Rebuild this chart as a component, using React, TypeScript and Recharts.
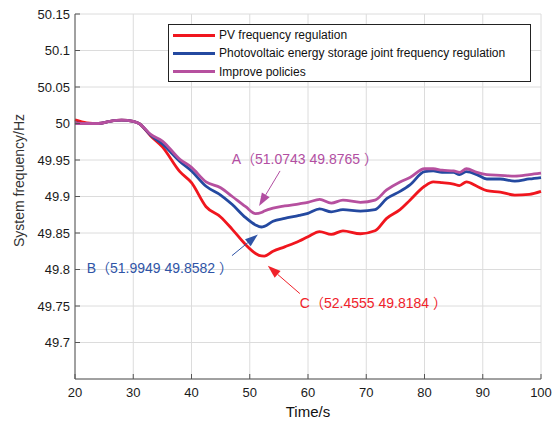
import React from 'react';
import {
  LineChart,
  Line,
  XAxis,
  YAxis,
  CartesianGrid,
  ReferenceLine,
  ReferenceDot,
  Label,
} from 'recharts';

const FONT = 'Arial, "Liberation Sans", sans-serif';
const NOTE_FONT = 'Arial, "Liberation Sans", "Noto Sans CJK SC", sans-serif';

// time samples (s)
const time = [
  20, 22, 24, 26, 28, 30, 31, 33, 35, 38, 40, 42.5, 45, 47, 49.3, 51, 52, 52.5, 54, 56,
  58.5, 60, 62, 64, 66, 69, 71.5, 73.5, 75.8, 77.5, 80, 81.5, 83, 85, 86, 87.2, 89, 90.7,
  93, 95.5, 98, 100,
];

// system frequency (Hz) for each strategy
const pvOnly = [
  50.005, 50.001, 50.0, 50.003, 50.0045, 50.003, 50.0, 49.983, 49.968, 49.934, 49.919,
  49.886, 49.872, 49.855, 49.834, 49.822, 49.8186, 49.8184, 49.825, 49.831, 49.839,
  49.845, 49.852, 49.848, 49.853, 49.849, 49.853, 49.87, 49.882, 49.895, 49.914, 49.92,
  49.919, 49.917, 49.915, 49.92, 49.914, 49.908, 49.906, 49.902, 49.903, 49.907,
];
const pvStorage = [
  50.001, 50.0, 50.0, 50.003, 50.0045, 50.003, 50.0, 49.984, 49.972, 49.948, 49.935,
  49.914, 49.902, 49.889, 49.871, 49.861, 49.8582, 49.859, 49.866, 49.87, 49.874,
  49.877, 49.883, 49.879, 49.882, 49.88, 49.882, 49.897, 49.907, 49.916, 49.934, 49.935,
  49.933, 49.933, 49.93, 49.934, 49.93, 49.924, 49.924, 49.921, 49.924, 49.926,
];
const improved = [
  50.0, 50.0, 50.0, 50.003, 50.0045, 50.003, 50.0, 49.985, 49.976, 49.951, 49.94, 49.92,
  49.912, 49.9, 49.886, 49.8765, 49.878, 49.88, 49.884, 49.887, 49.89, 49.892, 49.896,
  49.891, 49.895, 49.892, 49.895, 49.909, 49.92, 49.926, 49.938, 49.938, 49.936, 49.935,
  49.933, 49.938, 49.933, 49.93, 49.929, 49.928, 49.93, 49.932,
];

const xTicks = [20, 30, 40, 50, 60, 70, 80, 90, 100];
const yTicks = [49.7, 49.75, 49.8, 49.85, 49.9, 49.95, 50, 50.05, 50.1, 50.15];

const series = [
  { key: 'pv', name: 'PV frequency regulation', color: '#f0161e', values: pvOnly },
  {
    key: 'storage',
    name: 'Photovoltaic energy storage joint frequency regulation',
    color: '#2449a0',
    values: pvStorage,
  },
  { key: 'improved', name: 'Improve policies', color: '#b6509f', values: improved },
];

// callouts: label anchor, arrow tail -> arrow head
const callouts = [
  {
    text: 'A（51.0743 49.8765 ）',
    color: '#b24ea2',
    at: { x: 46.9, y: 49.951 },
    from: { x: 55.2, y: 49.935 },
    to: { x: 51.6, y: 49.887 },
  },
  {
    text: 'B（51.9949 49.8582 ）',
    color: '#2f54a6',
    at: { x: 22.0, y: 49.8026 },
    from: { x: 46.95, y: 49.819 },
    to: { x: 51.4, y: 49.848 },
  },
  {
    text: 'C（52.4555 49.8184 ）',
    color: '#f0222a',
    at: { x: 58.6, y: 49.7535 },
    from: { x: 58.6, y: 49.767 },
    to: { x: 53.1, y: 49.805 },
  },
];

const data = time.map((t, i) => {
  const row: Record<string, number> = { t };
  series.forEach((s) => {
    row[s.key] = s.values[i];
  });
  return row;
});

const arrowShape = (color: string) => (props: any) => {
  const { x1, y1, x2, y2 } = props;
  const ang = Math.atan2(y2 - y1, x2 - x1);
  const len = 13;
  const half = 4.5;
  const bx = x2 - len * Math.cos(ang);
  const by = y2 - len * Math.sin(ang);
  const px = -Math.sin(ang) * half;
  const py = Math.cos(ang) * half;
  return (
    <g>
      <line x1={x1} y1={y1} x2={bx} y2={by} stroke={color} strokeWidth={1} />
      <polygon
        points={`${x2},${y2} ${bx + px},${by + py} ${bx - px},${by - py}`}
        fill={color}
      />
    </g>
  );
};

const textShape = (text: string, color: string) => (props: any) => (
  <text
    x={props.cx}
    y={props.cy}
    dominantBaseline="central"
    fill={color}
    fontSize={14}
    fontFamily={NOTE_FONT}
  >
    {text}
  </text>
);

const tickStyle = { fill: '#1a1a1a', fontSize: 13, fontFamily: FONT };
const axisColor = '#555';

export default function App() {
  return (
    <div style={{ position: 'absolute', left: 0, top: 0, width: 553, height: 428 }}>
      <LineChart
        width={553}
        height={428}
        data={data}
        margin={{ top: 14, right: 12, left: 0, bottom: 0 }}
      >
        <CartesianGrid stroke="#dcdcdc" strokeWidth={1} />
        <XAxis
          dataKey="t"
          type="number"
          domain={[20, 100]}
          ticks={xTicks}
          height={49}
          tick={tickStyle}
          tickSize={-5}
          tickMargin={14}
          stroke={axisColor}
        >
          <Label
            content={(p: any) => (
              <text
                x={p.viewBox.x + p.viewBox.width / 2}
                y={p.viewBox.y + 32}
                textAnchor="middle"
                dominantBaseline="central"
                fontSize={15}
                fontFamily={FONT}
                fill="#111"
              >
                Time/s
              </text>
            )}
          />
        </XAxis>
        <XAxis
          xAxisId="top"
          orientation="top"
          type="number"
          dataKey="t"
          domain={[20, 100]}
          ticks={xTicks}
          height={0}
          tickFormatter={() => ''}
          tickSize={-5}
          stroke={axisColor}
        />
        <YAxis
          type="number"
          domain={[49.65, 50.15]}
          ticks={yTicks}
          width={75}
          tick={tickStyle}
          tickSize={-5}
          tickMargin={10}
          stroke={axisColor}
        >
          <Label
            content={(p: any) => {
              const cx = 19;
              const cy = p.viewBox.y + p.viewBox.height / 2 - 16;
              return (
                <text
                  x={cx}
                  y={cy}
                  transform={`rotate(-90 ${cx} ${cy})`}
                  textAnchor="middle"
                  dominantBaseline="central"
                  fontSize={14}
                  fontFamily={FONT}
                  fill="#333"
                >
                  System frequency/Hz
                </text>
              );
            }}
          />
        </YAxis>
        <YAxis
          yAxisId="right"
          orientation="right"
          type="number"
          domain={[49.65, 50.15]}
          ticks={yTicks}
          width={0}
          tickFormatter={() => ''}
          tickSize={-5}
          stroke={axisColor}
        />
        {series.map((s) => (
          <Line
            key={s.key}
            type="monotone"
            dataKey={s.key}
            name={s.name}
            stroke={s.color}
            strokeWidth={2.8}
            dot={false}
            isAnimationActive={false}
          />
        ))}
        {callouts.map((c) => (
          <ReferenceLine
            key={c.text + '-arrow'}
            segment={[c.from, c.to]}
            stroke={c.color}
            ifOverflow="visible"
            shape={arrowShape(c.color)}
          />
        ))}
        {callouts.map((c) => (
          <ReferenceDot
            key={c.text}
            x={c.at.x}
            y={c.at.y}
            r={0}
            ifOverflow="visible"
            shape={textShape(c.text, c.color)}
          />
        ))}
      </LineChart>
      {/* boxed legend in the upper part of the plot */}
      <div
        style={{
          position: 'absolute',
          left: 168,
          top: 24,
          width: 361,
          height: 55,
          border: '1px solid #222',
          background: '#fff',
          fontFamily: FONT,
          fontSize: 12,
          color: '#111',
          paddingTop: 1,
          boxSizing: 'content-box',
        }}
      >
        {series.map((s) => (
          <div
            key={s.key}
            style={{ display: 'flex', alignItems: 'center', height: 18.3 }}
          >
            <span
              style={{
                display: 'inline-block',
                width: 42,
                height: 3,
                background: s.color,
                marginLeft: 4,
                marginRight: 4,
              }}
            />
            <span>{s.name}</span>
          </div>
        ))}
      </div>
    </div>
  );
}
